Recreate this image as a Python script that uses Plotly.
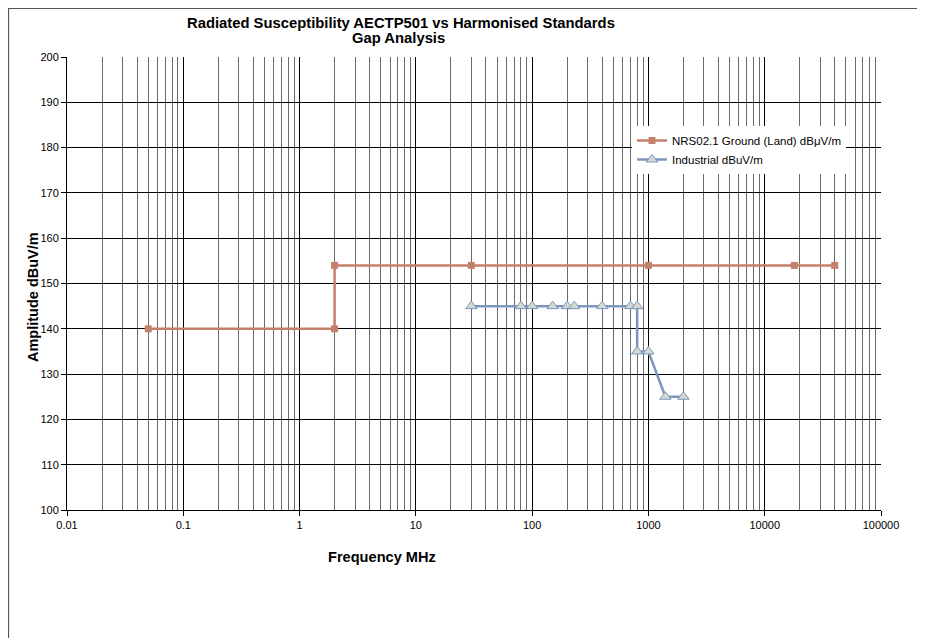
import plotly.graph_objects as go

# ---- data ----
nrs_freq = [0.05, 2, 2, 30, 1000, 18000, 40000]
nrs_amp = [140, 140, 154, 154, 154, 154, 154]
ind_freq = [30, 80, 100, 150, 200, 230, 400, 700, 800, 800, 1000, 1400, 2000]
ind_amp = [145, 145, 145, 145, 145, 145, 145, 145, 145, 135, 135, 125, 125]
x_tick_vals = [0.01, 0.1, 1, 10, 100, 1000, 10000, 100000]
x_tick_text = ["0.01", "0.1", "1", "10", "100", "1000", "10000", "100000"]
y_tick_vals = [100, 110, 120, 130, 140, 150, 160, 170, 180, 190, 200]

FONT = "Arial, Liberation Sans, sans-serif"

minor_vals = [m * d for d in x_tick_vals[:-1] for m in range(2, 10)]

fig = go.Figure()
fig.add_trace(go.Scatter(
    x=nrs_freq, y=nrs_amp, mode="lines+markers",
    name="NRS02.1 Ground (Land) dBμV/m",
    line=dict(color="#C4806A", width=2.5),
    marker=dict(symbol="square", size=7, color="#C4806A"),
))
fig.add_trace(go.Scatter(
    x=ind_freq, y=ind_amp, mode="lines+markers",
    name="Industrial dBuV/m",
    line=dict(color="#7B97BE", width=2.5),
    marker=dict(symbol="triangle-up", size=10, color="#D3D9CF",
                line=dict(color="#7B97BE", width=1)),
))

OFF = 8  # page body margin
W, H = 925 - OFF, 638 - OFF
# plot area in page coordinates
PL, PR, PT, PB = 67, 881, 57, 510
L, R, T, B = PL - OFF, PR - OFF, PT - OFF, PB - OFF
pw, ph = R - L, B - T


def px(x):  # page x -> paper
    return (x - OFF - L) / pw


def py(y):  # page y -> paper
    return (B - (y - OFF)) / ph


fig.update_layout(
    width=W, height=H,
    margin=dict(l=L, r=W - R, t=T, b=H - B),
    paper_bgcolor="white", plot_bgcolor="white",
    font=dict(family=FONT, size=11, color="black"),
    showlegend=True,
    legend=dict(x=px(632), y=py(126), xanchor="left", yanchor="top",
                bgcolor="white", borderwidth=0, font=dict(size=11.5),
                itemwidth=30, tracegroupgap=0),
    xaxis=dict(
        type="log", range=[-2, 5],
        tickvals=x_tick_vals, ticktext=x_tick_text,
        showgrid=True, gridcolor="black", gridwidth=1,
        showline=True, linecolor="black", linewidth=1,
        ticks="outside", ticklen=5, tickcolor="black",
        zeroline=False,
        minor=dict(tickvals=minor_vals, showgrid=True, gridcolor="#6a6a6a",
                   gridwidth=1, ticks=""),
        tickfont=dict(size=11),
    ),
    yaxis=dict(
        range=[100, 200], tickvals=y_tick_vals,
        showgrid=True, gridcolor="black", gridwidth=1,
        showline=True, linecolor="black", linewidth=1,
        ticks="outside", ticklen=5, tickcolor="black",
        zeroline=False, tickfont=dict(size=11),
    ),
    annotations=[
        dict(text="<b>Radiated Susceptibility AECTP501 vs Harmonised Standards</b>",
             x=px(401), y=py(23), xref="paper", yref="paper",
             xanchor="center", yanchor="middle",
             showarrow=False, font=dict(size=14.8, family=FONT)),
        dict(text="<b>Gap Analysis</b>",
             x=px(398), y=py(38), xref="paper", yref="paper",
             xanchor="center", yanchor="middle",
             showarrow=False, font=dict(size=14.8, family=FONT)),
        dict(text="<b>Frequency MHz</b>", x=px(382), y=py(557),
             xref="paper", yref="paper", xanchor="center", yanchor="middle",
             showarrow=False, font=dict(size=14.6, family=FONT)),
        dict(text="<b>Amplitude dBuV/m</b>", x=px(33), y=py(297),
             xref="paper", yref="paper", xanchor="center", yanchor="middle",
             showarrow=False, textangle=-90,
             font=dict(size=14.5, family=FONT)),
    ],
    shapes=[
        dict(type="rect", xref="paper", yref="paper",
             x0=px(8.5), y0=py(800), x1=px(1100), y1=py(8.5),
             line=dict(color="#555555", width=1.2), fillcolor="rgba(0,0,0,0)",
             layer="below"),
    ],
)

fig.write_html("out.html")
